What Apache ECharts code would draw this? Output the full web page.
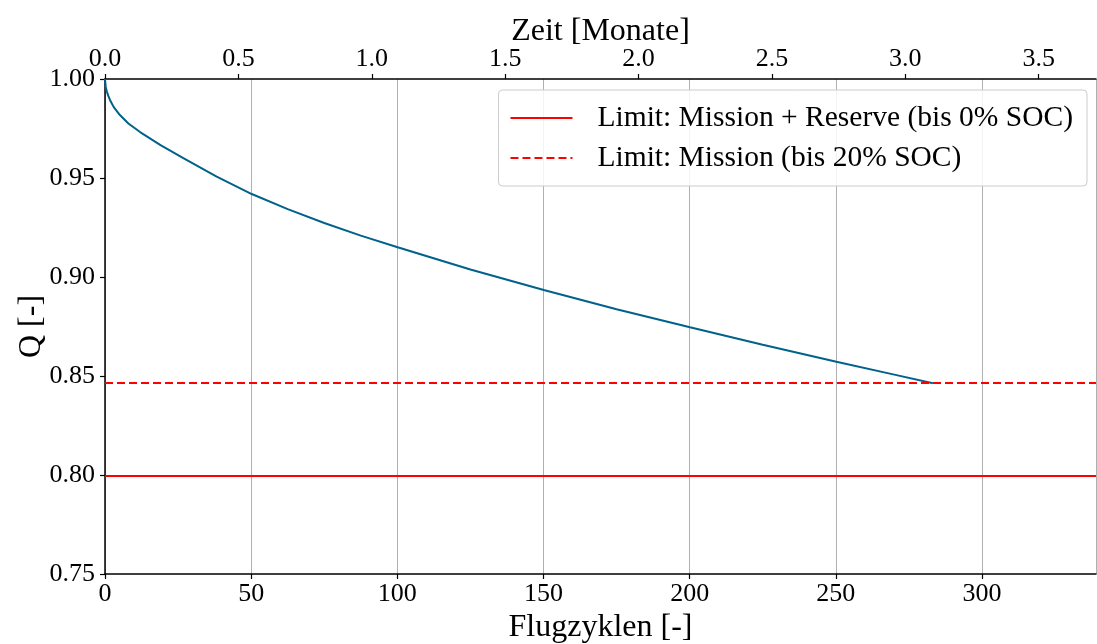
<!DOCTYPE html>
<html>
<head>
<meta charset="utf-8">
<script src="https://cdn.jsdelivr.net/npm/echarts@6/dist/echarts.min.js"></script>
<style>
html,body{margin:0;padding:0;background:#fff;}
#chart{width:1097px;height:644px;}
</style>
</head>
<body>
<div id="chart"></div>
<script>
// Data
const cycles = [0, 0.25, 0.6, 1.1, 1.7, 3, 5.1, 8, 12, 19, 26.8, 38.2, 50.2, 62.5, 75, 87.5, 100.1, 125, 150.1, 175, 200.1, 225, 250.2, 270, 283.2];
const capacity = [1.000, 0.996, 0.9938, 0.9916, 0.9894, 0.9858, 0.9818, 0.9775, 0.9732, 0.9666, 0.960, 0.9507, 0.9419, 0.9343, 0.9273, 0.9209, 0.9150, 0.9038, 0.8934, 0.8837, 0.8746, 0.8658, 0.8572, 0.8507, 0.8463];
const limitReserve = 0.7995;
const limitMission = 0.8465;
const xMax = 339;
const monthsMax = 3.715;
const legendNames = ['Limit: Mission + Reserve (bis 0% SOC)', 'Limit: Mission (bis 20% SOC)'];

const FONT = '"Liberation Serif", "Times New Roman", serif';
const chart = echarts.init(document.getElementById('chart'), null, {renderer: 'canvas'});
const curve = cycles.map((c, i) => [c, capacity[i]]);

chart.setOption({
  animation: false,
  backgroundColor: '#fff',
  textStyle: {fontFamily: FONT, color: '#000'},
  grid: {left: 105, top: 79, right: 1, bottom: 70, containLabel: false, outerBoundsMode: 'none'},
  legend: {
    data: legendNames,
    orient: 'vertical',
    right: 10, top: 90,
    itemWidth: 62, itemHeight: 14, itemGap: 10,
    padding: [13, 14, 13, 11],
    backgroundColor: 'rgba(255,255,255,0.85)',
    borderColor: '#cccccc', borderWidth: 1, borderRadius: 4,
    textStyle: {fontFamily: FONT, fontSize: 29.5, color: '#000', padding: [0, 0, 0, 20]}
  },
  xAxis: [{
    type: 'value', position: 'bottom', min: 0, max: xMax, interval: 50,
    name: 'Flugzyklen [-]', nameLocation: 'middle', nameGap: 38, nameMoveOverlap: false,
    nameTextStyle: {fontFamily: FONT, fontSize: 32, color: '#000'},
    axisLine: {show: true, onZero: false, lineStyle: {color: '#000', width: 1.5}},
    axisTick: {show: true, inside: false, length: 5, lineStyle: {color: '#000', width: 1.2}},
    axisLabel: {fontFamily: FONT, fontSize: 26, color: '#000', margin: 7, showMaxLabel: false},
    splitLine: {show: true, lineStyle: {color: '#b0b0b0', width: 1}}
  }, {
    type: 'value', position: 'top', min: 0, max: monthsMax, interval: 0.5,
    name: 'Zeit [Monate]', nameLocation: 'middle', nameGap: 31, nameMoveOverlap: false,
    nameTextStyle: {fontFamily: FONT, fontSize: 32, color: '#000'},
    axisLine: {show: true, onZero: false, lineStyle: {color: '#000', width: 1.5}},
    axisTick: {show: true, inside: false, length: 5, lineStyle: {color: '#000', width: 1.2}},
    axisLabel: {fontFamily: FONT, fontSize: 26, color: '#000', margin: 7, showMaxLabel: false,
      formatter: v => v.toFixed(1)},
    splitLine: {show: false}
  }],
  yAxis: {
    type: 'value', min: 0.75, max: 1.0, interval: 0.05,
    name: 'Q [-]', nameLocation: 'middle', nameGap: 57, nameMoveOverlap: false,
    nameTextStyle: {fontFamily: FONT, fontSize: 32, color: '#000'},
    axisLine: {show: true, onZero: false, lineStyle: {color: '#000', width: 1.5}},
    axisTick: {show: true, inside: false, length: 5, lineStyle: {color: '#000', width: 1.2}},
    axisLabel: {fontFamily: FONT, fontSize: 26, color: '#000', margin: 10, formatter: v => v.toFixed(2)},
    splitLine: {show: false}
  },
  series: [{
    name: 'Q', type: 'line', xAxisIndex: 0, data: curve,
    showSymbol: false, symbol: 'none', smooth: false,
    lineStyle: {color: '#00628b', width: 2}, z: 3
  }, {
    name: legendNames[0], type: 'line', xAxisIndex: 0,
    data: [[0, limitReserve], [xMax, limitReserve]],
    symbol: 'none', showSymbol: false,
    itemStyle: {color: '#ff0000', opacity: 0},
    lineStyle: {color: '#ff0000', width: 2, type: 'solid'}
  }, {
    name: legendNames[1], type: 'line', xAxisIndex: 0,
    data: [[0, limitMission], [xMax, limitMission]],
    symbol: 'none', showSymbol: false,
    itemStyle: {color: '#ff0000', opacity: 0},
    lineStyle: {color: '#ff0000', width: 2, type: [8, 4]}
  }]
});
</script>
</body>
</html>
